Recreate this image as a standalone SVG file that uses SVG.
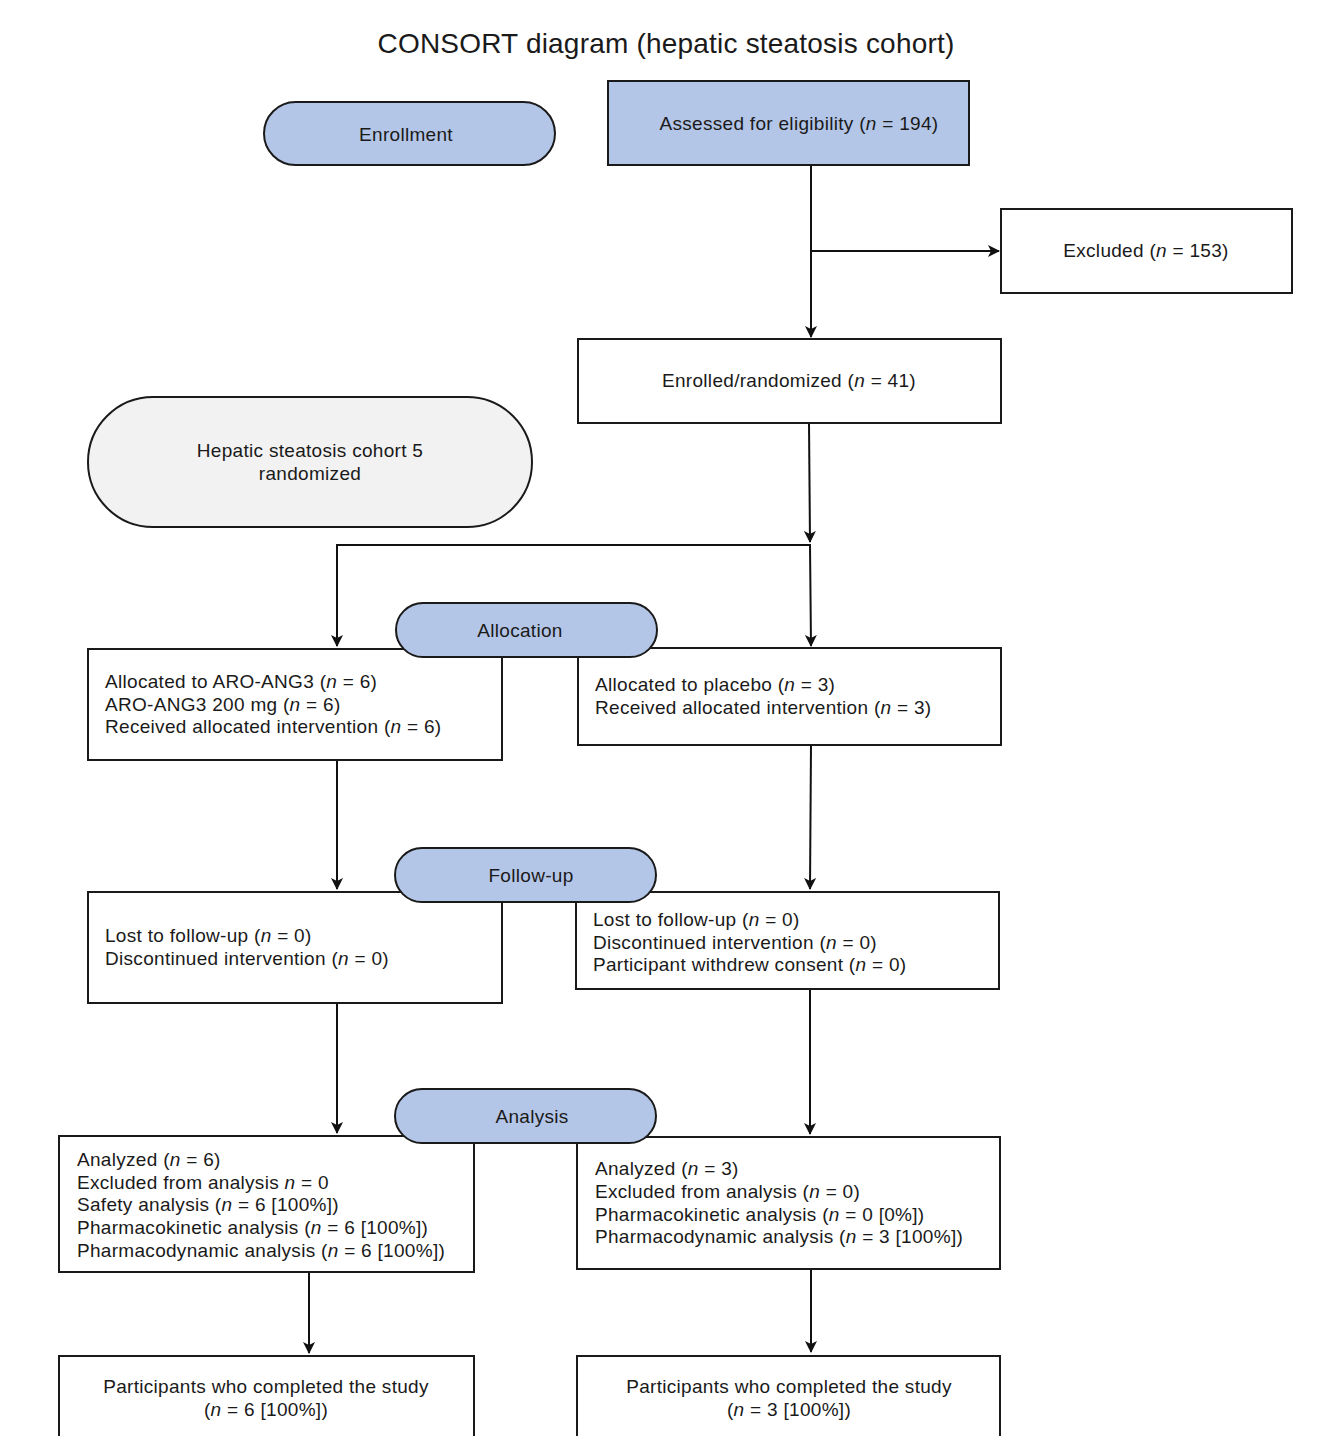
<svg xmlns="http://www.w3.org/2000/svg" width="1343" height="1436" viewBox="0 0 1343 1436">
<style>
text{font-family:"Liberation Sans",Arial,sans-serif;font-size:19px;letter-spacing:0.3px;fill:#1a1a1a}
.t{font-size:28px;letter-spacing:0.2px}
.c{text-anchor:middle}
.i{font-style:italic}
.box{fill:#fff;stroke:#1a1a1a;stroke-width:2}
.blue{fill:#b4c6e7;stroke:#1a1a1a;stroke-width:2}
.gray{fill:#f2f2f2;stroke:#1a1a1a;stroke-width:2}
.ln{fill:none;stroke:#111;stroke-width:2}
</style>
<defs>
<marker id="ar" markerWidth="12" markerHeight="12" viewBox="0 0 12 12" refX="11" refY="6" orient="auto" markerUnits="userSpaceOnUse">
<path d="M0,0 L12,6 L0,12 L3,6 Z" fill="#111"/>
</marker>
</defs>
<rect width="1343" height="1436" fill="#fff"/>
<text class="t c" x="666" y="53">CONSORT diagram (hepatic steatosis cohort)</text>

<g id="connectors">
<path class="ln" d="M811,165 V337" marker-end="url(#ar)"/>
<path class="ln" d="M811,251 H999" marker-end="url(#ar)"/>
<path class="ln" d="M809,423 L810,542" marker-end="url(#ar)"/>
<path class="ln" d="M337,646 V545 H810 L811,646" marker-end="url(#ar)"/>
<path class="ln" d="M337,545 V646" marker-end="url(#ar)"/>
<path class="ln" d="M337,760 V889" marker-end="url(#ar)"/>
<path class="ln" d="M811,745 L810,889" marker-end="url(#ar)"/>
<path class="ln" d="M337,1003 V1133" marker-end="url(#ar)"/>
<path class="ln" d="M810,989 V1134" marker-end="url(#ar)"/>
<path class="ln" d="M309,1272 V1353" marker-end="url(#ar)"/>
<path class="ln" d="M811,1269 V1352" marker-end="url(#ar)"/>
</g>

<g id="enrollment">
<rect class="blue" x="264" y="102" width="291" height="63" rx="31.5"/>
<text class="c" x="406" y="141">Enrollment</text>
</g>
<g id="assessed">
<rect class="blue" x="608" y="81" width="361" height="84"/>
<text class="c" x="799" y="130">Assessed for eligibility (<tspan class="i">n</tspan> = 194)</text>
</g>
<g id="excluded">
<rect class="box" x="1001" y="209" width="291" height="84"/>
<text class="c" x="1146" y="257">Excluded (<tspan class="i">n</tspan> = 153)</text>
</g>
<g id="enrolled">
<rect class="box" x="578" y="339" width="423" height="84"/>
<text class="c" x="789" y="387">Enrolled/randomized (<tspan class="i">n</tspan> = 41)</text>
</g>
<g id="cohort">
<rect class="gray" x="88" y="397" width="444" height="130" rx="65"/>
<text class="c" x="310" y="457">Hepatic steatosis cohort 5</text>
<text class="c" x="310" y="480">randomized</text>
</g>

<g id="alloc-left">
<rect class="box" x="88" y="649" width="414" height="111"/>
<text x="105" y="688">Allocated to ARO-ANG3 (<tspan class="i">n</tspan> = 6)</text>
<text x="105" y="711">ARO-ANG3 200 mg (<tspan class="i">n</tspan> = 6)</text>
<text x="105" y="733">Received allocated intervention (<tspan class="i">n</tspan> = 6)</text>
</g>
<g id="alloc-right">
<rect class="box" x="578" y="648" width="423" height="97"/>
<text x="595" y="691">Allocated to placebo (<tspan class="i">n</tspan> = 3)</text>
<text x="595" y="714">Received allocated intervention (<tspan class="i">n</tspan> = 3)</text>
</g>
<g id="allocation">
<rect class="blue" x="396" y="603" width="261" height="54" rx="27"/>
<text class="c" x="520" y="637">Allocation</text>
</g>

<g id="fu-left">
<rect class="box" x="88" y="892" width="414" height="111"/>
<text x="105" y="942">Lost to follow-up (<tspan class="i">n</tspan> = 0)</text>
<text x="105" y="965">Discontinued intervention (<tspan class="i">n</tspan> = 0)</text>
</g>
<g id="fu-right">
<rect class="box" x="576" y="892" width="423" height="97"/>
<text x="593" y="926">Lost to follow-up (<tspan class="i">n</tspan> = 0)</text>
<text x="593" y="949">Discontinued intervention (<tspan class="i">n</tspan> = 0)</text>
<text x="593" y="971">Participant withdrew consent (<tspan class="i">n</tspan> = 0)</text>
</g>
<g id="followup">
<rect class="blue" x="395" y="848" width="261" height="54" rx="27"/>
<text class="c" x="531" y="882">Follow-up</text>
</g>

<g id="an-left">
<rect class="box" x="59" y="1136" width="415" height="136"/>
<text x="77" y="1166">Analyzed (<tspan class="i">n</tspan> = 6)</text>
<text x="77" y="1189">Excluded from analysis <tspan class="i">n</tspan> = 0</text>
<text x="77" y="1211">Safety analysis (<tspan class="i">n</tspan> = 6 [100%])</text>
<text x="77" y="1234">Pharmacokinetic analysis (<tspan class="i">n</tspan> = 6 [100%])</text>
<text x="77" y="1257">Pharmacodynamic analysis (<tspan class="i">n</tspan> = 6 [100%])</text>
</g>
<g id="an-right">
<rect class="box" x="577" y="1137" width="423" height="132"/>
<text x="595" y="1175">Analyzed (<tspan class="i">n</tspan> = 3)</text>
<text x="595" y="1198">Excluded from analysis (<tspan class="i">n</tspan> = 0)</text>
<text x="595" y="1221">Pharmacokinetic analysis (<tspan class="i">n</tspan> = 0 [0%])</text>
<text x="595" y="1243">Pharmacodynamic analysis (<tspan class="i">n</tspan> = 3 [100%])</text>
</g>
<g id="analysis">
<rect class="blue" x="395" y="1089" width="261" height="54" rx="27"/>
<text class="c" x="532" y="1123">Analysis</text>
</g>

<g id="done-left">
<rect class="box" x="59" y="1356" width="415" height="90"/>
<text class="c" x="266" y="1393">Participants who completed the study</text>
<text class="c" x="266" y="1416">(<tspan class="i">n</tspan> = 6 [100%])</text>
</g>
<g id="done-right">
<rect class="box" x="577" y="1356" width="423" height="90"/>
<text class="c" x="789" y="1393">Participants who completed the study</text>
<text class="c" x="789" y="1416">(<tspan class="i">n</tspan> = 3 [100%])</text>
</g>
</svg>
